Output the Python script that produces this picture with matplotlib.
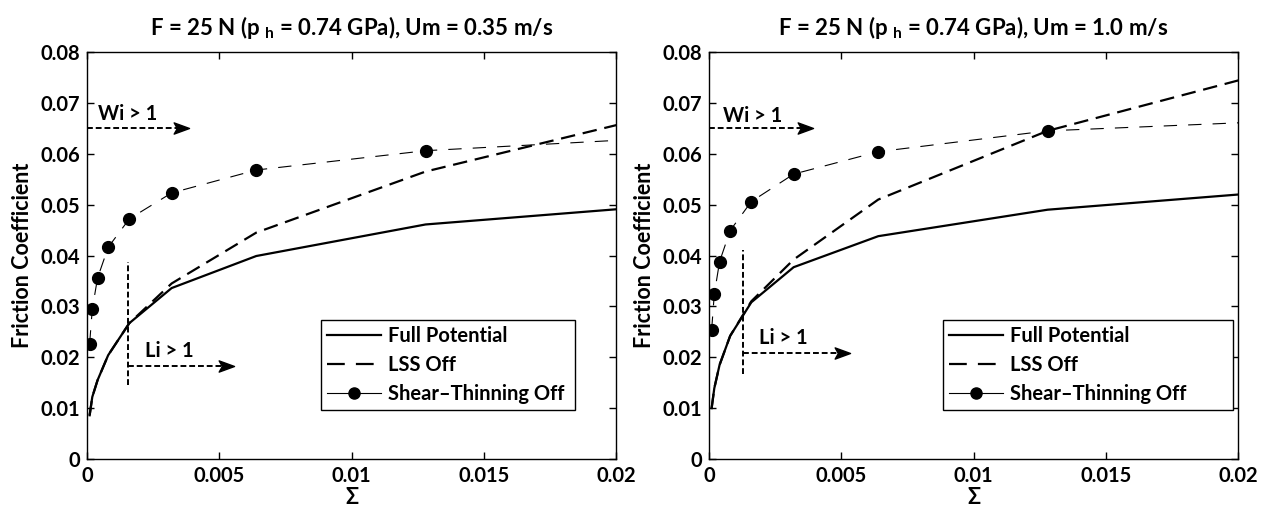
import matplotlib
matplotlib.use('Agg')
import matplotlib.pyplot as plt
from matplotlib.path import Path
from matplotlib.lines import Line2D

plt.rcParams['font.family'] = ['Lato', 'DejaVu Sans']
plt.rcParams['font.weight'] = 'bold'
plt.rcParams['axes.titleweight'] = 'bold'
plt.rcParams['axes.labelweight'] = 'bold'
plt.rcParams['mathtext.fontset'] = 'custom'
plt.rcParams['mathtext.rm'] = 'Lato:bold'
plt.rcParams['mathtext.bf'] = 'Lato:bold'
plt.rcParams['mathtext.it'] = 'Lato:bold'

# ---------------- data ----------------
sigma = [0.0001, 0.0002, 0.0004, 0.0008, 0.0016, 0.0032, 0.0064, 0.0128, 0.0256]

full_left = [0.0086, 0.0122, 0.0155, 0.0204, 0.0267, 0.0336, 0.0399, 0.0461, 0.0514]
lss_left = [0.0086, 0.0122, 0.0155, 0.0204, 0.0267, 0.0345, 0.0445, 0.0565, 0.0727]
st_left = [0.0227, 0.0295, 0.0356, 0.0416, 0.0472, 0.0523, 0.0568, 0.0606, 0.0642]

full_right = [0.0100, 0.0139, 0.0185, 0.0242, 0.0308, 0.0377, 0.0438, 0.0490, 0.0543]
lss_right = [0.0100, 0.0139, 0.0185, 0.0242, 0.0310, 0.0392, 0.0510, 0.0645, 0.0821]
st_right = [0.0254, 0.0324, 0.0388, 0.0449, 0.0506, 0.0560, 0.0604, 0.0645, 0.0673]

titles = [r"F = 25 N (p $_{\mathrm{h}}$ = 0.74 GPa), Um = 0.35 m/s",
          r"F = 25 N (p $_{\mathrm{h}}$ = 0.74 GPa), Um = 1.0 m/s"]
labels = ["Full Potential", "LSS Off", "Shear\u2013Thinning Off"]
xticks = [0, 0.005, 0.01, 0.015, 0.02]
xticklabels = ["0", "0.005", "0.01", "0.015", "0.02"]
yticks = [0, 0.01, 0.02, 0.03, 0.04, 0.05, 0.06, 0.07, 0.08]
yticklabels = ["0", "0.01", "0.02", "0.03", "0.04", "0.05", "0.06", "0.07", "0.08"]

# annotation geometry (data coords)
wi_arrow = [dict(y=0.0650, x1=0.0035, tx=0.00155, ty=0.0678),
            dict(y=0.0650, x1=0.0036, tx=0.00166, ty=0.0675)]
li_marks = [dict(xv=0.00154, y0=0.0145, y1=0.0388, ya=0.0183, x1=0.0052, tx=0.0031, ty=0.0212),
            dict(xv=0.00127, y0=0.0167, y1=0.0411, ya=0.0209, x1=0.0050, tx=0.0028, ty=0.0238)]
legend_boxes = [(0.442, 0.12, 0.481, 0.228), (0.442, 0.12, 0.549, 0.228)]

# concave arrowhead marker
head = Path([(1.0, 0.0), (-0.7, 0.62), (-0.35, 0.0), (-0.7, -0.62), (1.0, 0.0)],
            [Path.MOVETO, Path.LINETO, Path.LINETO, Path.LINETO, Path.CLOSEPOLY])

fig = plt.figure(figsize=(12.7, 5.12), dpi=100)
axes = [fig.add_axes([87/1270, 53/512, 529/1270, 407/512]),
        fig.add_axes([709/1270, 53/512, 529/1270, 407/512])]

datasets = [(full_left, lss_left, st_left), (full_right, lss_right, st_right)]
FS_TICK = 14.5
FS_TITLE = 16
FS_YLAB = 15.5
FS_TXT = 14.5

for i, ax in enumerate(axes):
    full, lss, st = datasets[i]
    ax.plot(sigma, full, color='k', lw=1.6)
    ax.plot(sigma, lss, color='k', lw=1.6, dashes=(6.5, 3.5))
    ax.plot(sigma, st, color='k', lw=0.8, dashes=(12, 10), marker='o', ms=8.5,
            mfc='k', mec='k')

    # Wi > 1 arrow
    w = wi_arrow[i]
    ax.plot([0, w['x1']], [w['y'], w['y']], color='k', lw=1.4, dashes=(3, 1.5), clip_on=False)
    ax.plot([w['x1']], [w['y']], marker=head, ms=13, color='k', ls='none')
    ax.text(w['tx'], w['ty'], "Wi > 1", fontsize=FS_TXT, ha='center', va='center')

    # Li > 1 marks
    m = li_marks[i]
    ax.plot([m['xv'], m['xv']], [m['y0'], m['y1']], color='k', lw=1.4, dashes=(3, 1.5))
    ax.plot([m['xv'], m['x1']], [m['ya'], m['ya']], color='k', lw=1.4, dashes=(3, 1.5))
    ax.plot([m['x1']], [m['ya']], marker=head, ms=13, color='k', ls='none')
    ax.text(m['tx'], m['ty'], "Li > 1", fontsize=FS_TXT, ha='center', va='center')

    ax.set_xlim(0, 0.02)
    ax.set_ylim(0, 0.08)
    ax.set_xticks(xticks)
    ax.set_xticklabels(xticklabels)
    ax.set_yticks(yticks)
    ax.set_yticklabels(yticklabels)
    ax.tick_params(direction='in', top=True, right=True, length=5, width=1,
                   labelsize=FS_TICK, pad=5)
    for s in ax.spines.values():
        s.set_linewidth(1.0)
    ax.set_xlabel("\u03a3", fontsize=FS_YLAB, labelpad=1)
    ax.set_ylabel("Friction Coefficient", fontsize=FS_YLAB, labelpad=5)
    ax.set_title(titles[i], fontsize=FS_TITLE, pad=12)

    handles = [Line2D([], [], color='k', lw=1.6),
               Line2D([], [], color='k', lw=1.6, dashes=(8, 5)),
               Line2D([], [], color='k', lw=0.8, marker='o', ms=8, mfc='k', mec='k')]
    leg = ax.legend(handles, labels, loc='lower left', bbox_to_anchor=legend_boxes[i],
                    mode='expand', borderaxespad=0, fontsize=FS_TXT, handlelength=2.7,
                    handletextpad=0.35, labelspacing=0.45, fancybox=False,
                    framealpha=1, borderpad=0.3)
    leg.get_frame().set_edgecolor('k')
    leg.get_frame().set_linewidth(1.0)

fig.savefig('out.png', dpi=100)
